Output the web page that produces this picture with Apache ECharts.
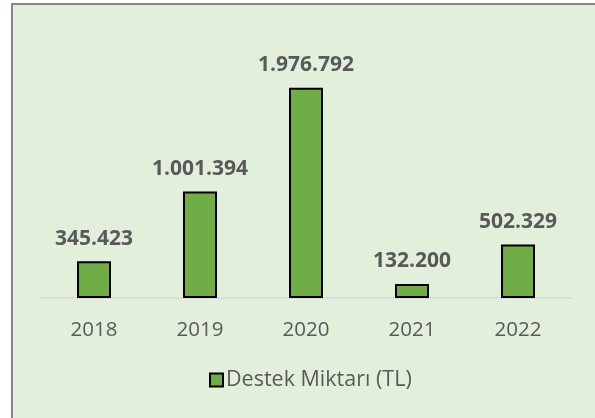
<!DOCTYPE html>
<html>
<head>
<meta charset="utf-8">
<script src="https://cdn.jsdelivr.net/npm/echarts@6/dist/echarts.min.js"></script>
<style>
  html, body { margin: 0; padding: 0; background: #fff; }
  #chart { width: 595px; height: 418px; }
</style>
</head>
<body>
<div id="chart"></div>
<script>
// yillar ve destek tutarlari
var years = ['2018', '2019', '2020', '2021', '2022'];
var amounts = [345423, 1001394, 1976792, 132200, 502329];
var seriesName = 'Destek Miktarı (TL)';

var chart = echarts.init(document.getElementById('chart'));

// sayilari 1.234.567 seklinde yaz
function fmt(v) {
  return String(v).replace(/\B(?=(\d{3})+(?!\d))/g, '.');
}

var option = {
  backgroundColor: '#fff',
  animation: false,
  textStyle: { fontFamily: 'Open Sans' },
  graphic: [
    { type: 'rect', shape: { x: 11, y: 3, width: 600, height: 420 }, style: { fill: '#E2EFDA' }, z: -10 },
    { type: 'rect', shape: { x: 11, y: 3, width: 2, height: 420 }, style: { fill: '#868686' }, z: -9 },
    { type: 'rect', shape: { x: 11, y: 3, width: 600, height: 2 }, style: { fill: '#868686' }, z: -9 }
  ],
  grid: { left: 41, right: 24, top: 32, bottom: 120 },
  legend: {
    data: [seriesName],
    icon: 'rect',
    bottom: 22,
    left: 204,
    itemWidth: 13,
    itemHeight: 13,
    itemGap: 10,
    textStyle: { color: '#595959', fontSize: 21.5, padding: [0, 0, 0, -2] }
  },
  xAxis: {
    type: 'category',
    data: years,
    axisLine: { lineStyle: { color: '#D9D9D9', width: 1.5 } },
    axisTick: { show: false },
    axisLabel: { color: '#595959', fontSize: 20.5, margin: 22 }
  },
  yAxis: {
    type: 'value',
    min: 0,
    max: 2500000,
    show: false
  },
  series: [{
    name: seriesName,
    type: 'bar',
    data: amounts,
    barWidth: 34,
    itemStyle: { color: '#70AD47', borderColor: '#000', borderWidth: 2 },
    label: {
      show: true,
      position: 'top',
      distance: 12,
      color: '#595959',
      fontSize: 21,
      fontWeight: 'bold',
      formatter: function (p) { return fmt(p.value); }
    }
  }]
};

chart.setOption(option, true);
</script>
</body>
</html>
